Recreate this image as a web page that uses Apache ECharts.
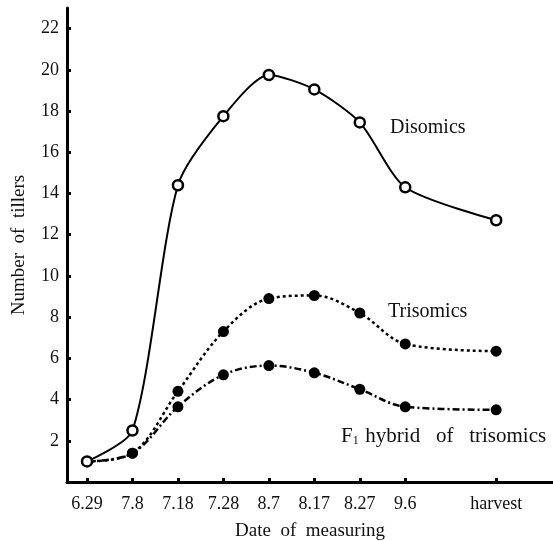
<!DOCTYPE html>
<html>
<head>
<meta charset="utf-8">
<script src="https://cdn.jsdelivr.net/npm/echarts@6/dist/echarts.min.js"></script>
<style>
  html, body { margin: 0; padding: 0; background: #fff; }
  #chart { width: 553px; height: 541px; }
</style>
</head>
<body>
<div id="chart"></div>
<script>
// dates of measuring; the blank slot keeps the gap before "harvest"
var dates = ["6.29", "7.8", "7.18", "7.28", "8.7", "8.17", "8.27", "9.6", "", "harvest"];
var disomics = [1.0, 2.5, 14.4, 17.75, 19.75, 19.05, 17.45, 14.3, null, 12.7];
var trisomics = [1.0, 1.4, 4.4, 7.3, 8.9, 9.05, 8.2, 6.7, null, 6.35];
var f1hybrid = [1.0, 1.4, 3.65, 5.2, 5.65, 5.3, 4.5, 3.65, null, 3.5];
var yTicks = [2, 4, 6, 8, 10, 12, 14, 16, 18, 20, 22];

var FONT = "Liberation Serif";

function pairs(arr) {
  var out = [];
  arr.forEach(function (v, i) {
    if (v !== null) out.push([i, v]);
  });
  return out;
}

var xTickIdx = [];
dates.forEach(function (d, i) { if (d !== "") xTickIdx.push(i); });

var chart = echarts.init(document.getElementById("chart"));

chart.setOption({
  animation: false,
  backgroundColor: "#fff",
  grid: { left: 67, right: 0, top: 8, bottom: 59, containLabel: false, outerBoundsMode: "none" },
  xAxis: {
    type: "value",
    min: -0.44,
    max: 10.25,
    name: "Date  of  measuring",
    nameLocation: "middle",
    nameGap: 40,
    nameTextStyle: { fontFamily: FONT, fontSize: 19, color: "#111" },
    axisLine: { onZero: false, lineStyle: { color: "#000", width: 3 } },
    axisTick: { inside: true, length: 4, lineStyle: { color: "#000", width: 3 }, customValues: xTickIdx },
    axisLabel: {
      customValues: xTickIdx,
      margin: 13,
      fontFamily: FONT,
      fontSize: 18,
      color: "#111",
      formatter: function (v) { return dates[Math.round(v)]; }
    },
    splitLine: { show: false }
  },
  yAxis: {
    type: "value",
    min: 0,
    max: 23,
    name: "Number  of  tillers",
    nameLocation: "middle",
    nameGap: 38,
    nameRotate: 90,
    nameTextStyle: { fontFamily: FONT, fontSize: 19, color: "#111" },
    axisLine: { onZero: false, lineStyle: { color: "#000", width: 3 } },
    axisTick: { inside: true, length: 4, lineStyle: { color: "#000", width: 3 }, customValues: yTicks },
    axisLabel: { customValues: yTicks, margin: 8, fontFamily: FONT, fontSize: 18, color: "#111" },
    splitLine: { show: false }
  },
  series: [
    {
      name: "Disomics",
      type: "line",
      smooth: 0.25,
      data: pairs(disomics),
      symbol: "circle",
      symbolSize: 10,
      itemStyle: { color: "#fff", borderColor: "#000", borderWidth: 2.5 },
      lineStyle: { color: "#000", width: 2 },
      z: 3
    },
    {
      name: "Trisomics",
      type: "line",
      smooth: 0.35,
      data: pairs(trisomics),
      symbol: "circle",
      symbolSize: 11,
      itemStyle: { color: "#000" },
      lineStyle: { color: "#000", width: 2.5, type: [3, 3] },
      z: 2
    },
    {
      name: "F1 hybrid of trisomics",
      type: "line",
      smooth: 0.35,
      data: pairs(f1hybrid),
      symbol: "circle",
      symbolSize: 11,
      itemStyle: { color: "#000" },
      lineStyle: { color: "#000", width: 2.5, type: [7, 3, 2, 3] },
      z: 2
    }
  ],
  graphic: [
    {
      type: "text", left: 390, top: 118,
      style: { text: "Disomics", fontFamily: FONT, fontSize: 20, fill: "#111" }
    },
    {
      type: "text", left: 388, top: 302,
      style: { text: "Trisomics", fontFamily: FONT, fontSize: 20, fill: "#111" }
    },
    {
      type: "text", left: 341, top: 426,
      style: {
        text: "{a|F}{b|1}  {a|hybrid   of   trisomics}",
        rich: {
          a: { fontFamily: FONT, fontSize: 21, fill: "#111", color: "#111" },
          b: { fontFamily: FONT, fontSize: 12, fill: "#111", color: "#111", verticalAlign: "bottom", padding: [7, 0, 0, 0] }
        }
      }
    }
  ]
});
</script>
</body>
</html>
